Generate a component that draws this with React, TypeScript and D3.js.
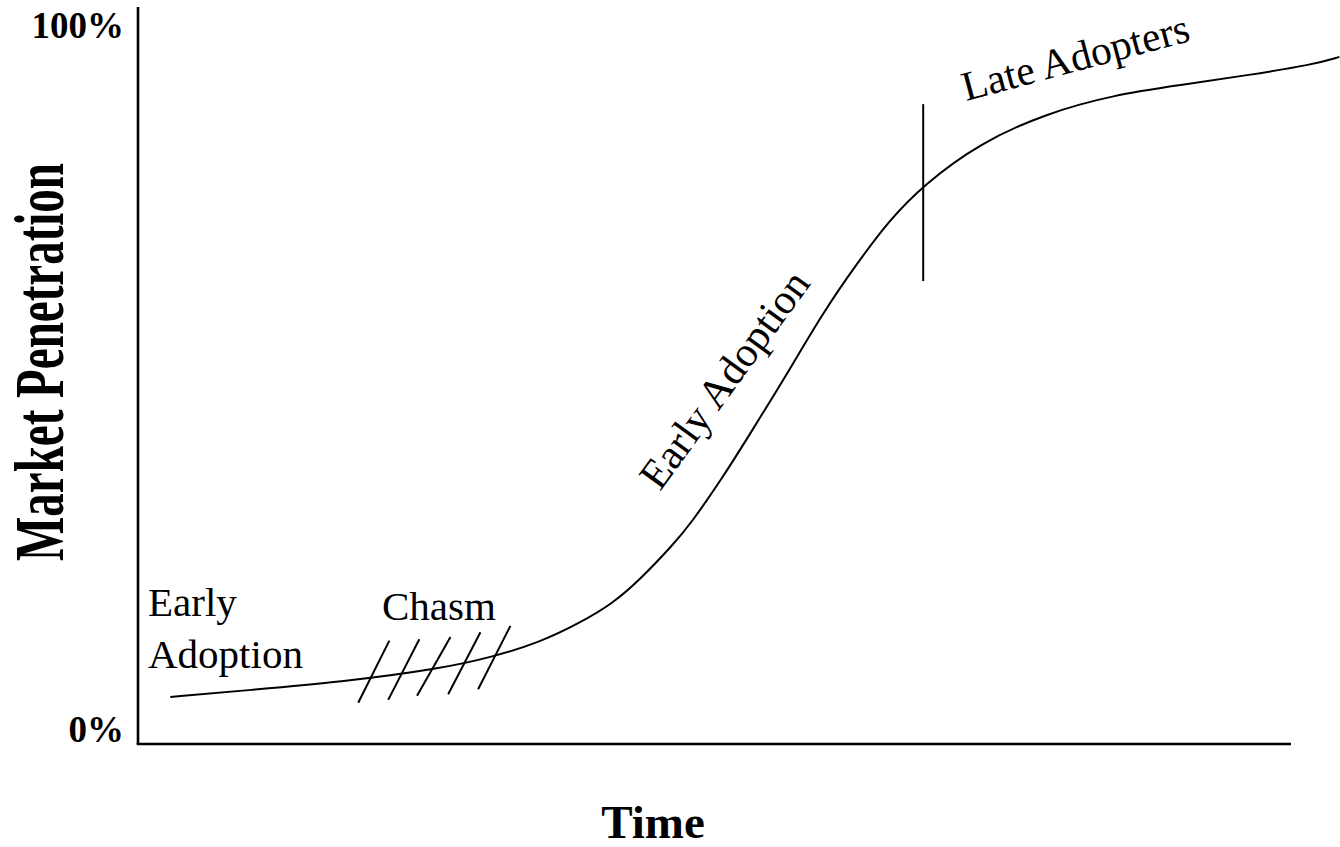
import * as d3 from "d3"

// Adoption curve (time 0-100, penetration 0-100 %)
const curveTime = [2.8, 9.7, 17.5, 26.2, 30.8, 34.9, 38.3, 41.2, 43.5, 46.4, 47.9, 50.7, 53.3, 56.5, 59.4, 62.4, 65.2, 68.1, 73.0, 78.8, 84.6, 90.4, 96.2, 101.9, 104.2]
const curvePenetration = [5.1, 6.1, 7.2, 9.1, 10.8, 12.9, 15.6, 18.4, 21.7, 26.7, 29.6, 36.2, 43.0, 51.5, 59.6, 66.7, 72.8, 77.7, 83.7, 87.9, 90.5, 91.9, 93.3, 94.8, 95.9]

// chasm hatch marks: [time, penetration] of top and bottom end
const hatchTop = [[21.8, 13.1], [24.4, 13.3], [27.1, 13.6], [29.7, 14.3], [32.3, 15.2]]
const hatchBottom = [[19.1, 4.3], [21.7, 4.7], [24.2, 5.3], [26.9, 5.5], [29.5, 6.2]]

// divider between early adoption and late adopters
const dividerTime = 68.1
const dividerRange = [64.1, 89.2]

const tickValues = [0, 100]
const tickLabels = ["0%", "100%"]

const width = 1340
const height = 847
const plot = { left: 138, right: 1291, top: 7, bottom: 744 }
const serif = "'Liberation Serif', 'Times New Roman', Times, serif"

export default function App() {
  const x = d3.scaleLinear().domain([0, 100]).range([plot.left, plot.right])
  const y = d3.scaleLinear().domain([0, 100]).range([733, 28])

  const points: [number, number][] = curveTime.map((t, i) => [t, curvePenetration[i]])
  const line = d3
    .line<[number, number]>()
    .x((d) => x(d[0]))
    .y((d) => y(d[1]))
    .curve(d3.curveBasis)

  return (
    <svg
      width={width}
      height={height}
      style={{ position: "absolute", left: 0, top: 0, background: "white" }}
      fontFamily={serif}
    >
      {/* axes */}
      <line x1={plot.left} x2={plot.left} y1={plot.top} y2={plot.bottom} stroke="black" strokeWidth={2.6} />
      <line x1={plot.left - 1.3} x2={plot.right} y1={plot.bottom} y2={plot.bottom} stroke="black" strokeWidth={2.6} />

      {tickValues.map((v, i) => (
        <text
          key={v}
          x={124}
          y={y(v) + (v === 0 ? 9 : 10)}
          textAnchor="end"
          fontSize={37}
          fontWeight="bold"
        >
          {tickLabels[i]}
        </text>
      ))}

      <text
        transform="translate(63,362) rotate(-90) scale(1,1.5)"
        textAnchor="middle"
        fontSize={47}
        fontWeight="bold"
      >
        Market Penetration
      </text>
      <text x={653} y={838} textAnchor="middle" fontSize={47} fontWeight="bold">
        Time
      </text>

      {/* the curve */}
      <path d={line(points) ?? ""} fill="none" stroke="black" strokeWidth={2} />

      {/* chasm hatches */}
      {hatchTop.map((t, i) => (
        <line
          key={i}
          x1={x(t[0])}
          y1={y(t[1])}
          x2={x(hatchBottom[i][0])}
          y2={y(hatchBottom[i][1])}
          stroke="black"
          strokeWidth={2}
        />
      ))}

      <line
        x1={x(dividerTime)}
        x2={x(dividerTime)}
        y1={y(dividerRange[0])}
        y2={y(dividerRange[1])}
        stroke="black"
        strokeWidth={2}
      />

      {/* annotations */}
      <text x={148} y={616} fontSize={41}>Early</text>
      <text x={148} y={668} fontSize={41}>Adoption</text>
      <text x={382} y={620} fontSize={41}>Chasm</text>
      <text transform="translate(660,492) rotate(-54)" fontSize={42}>Early Adoption</text>
      <text transform="translate(966,101) rotate(-15)" fontSize={41.5}>Late Adopters</text>
    </svg>
  )
}
